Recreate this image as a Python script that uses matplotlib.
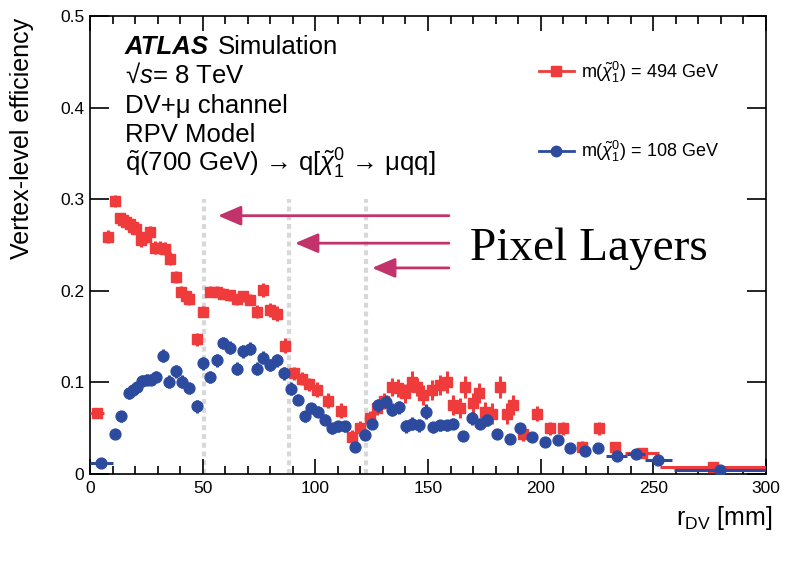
import numpy as np
import matplotlib
matplotlib.use('Agg')
from matplotlib import pyplot as plt
from matplotlib.lines import Line2D

plt.rcParams['font.family'] = ['Liberation Sans', 'DejaVu Sans']
plt.rcParams['mathtext.fontset'] = 'custom'
plt.rcParams['mathtext.rm'] = 'Liberation Sans'
plt.rcParams['mathtext.it'] = 'Liberation Sans:italic'
plt.rcParams['mathtext.bf'] = 'Liberation Sans:bold'

# m(chi) = 494 GeV, 3 mm bins
red_r = [8.0, 11.0, 13.2, 14.6, 16.0, 17.6, 19.1, 20.5, 22.8, 25.0, 26.5, 28.7,
         30.9, 33.1, 35.4, 38.3, 40.5, 42.5, 44.0, 47.3, 50.3, 53.3, 56.2, 59.2,
         62.1, 65.1, 68.0, 71.0, 74.0, 76.9, 79.9, 82.9, 86.4, 90.6, 94.0, 97.2,
         100.6, 105.8, 111.4, 116.2, 119.8, 124.3, 127.5, 130.5, 133.9, 136.9,
         139.8, 142.8, 145.0, 148.0, 151.7, 155.3, 158.3, 161.3, 164.2, 166.4,
         170.1, 172.8, 175.3, 178.3, 182.0, 185.0, 187.9, 192.3, 198.3, 204.2,
         210.1, 218.2, 226.0, 233.0]
red_eff = [0.259, 0.298, 0.279, 0.277, 0.275, 0.273, 0.270, 0.268, 0.255, 0.259,
           0.264, 0.247, 0.247, 0.246, 0.235, 0.215, 0.199, 0.194, 0.191, 0.147,
           0.177, 0.199, 0.199, 0.197, 0.195, 0.191, 0.194, 0.190, 0.177, 0.201,
           0.179, 0.175, 0.140, 0.110, 0.104, 0.098, 0.092, 0.080, 0.069, 0.040,
           0.050, 0.061, 0.072, 0.080, 0.095, 0.094, 0.088, 0.101, 0.095, 0.086,
           0.092, 0.097, 0.101, 0.075, 0.072, 0.095, 0.077, 0.088, 0.068, 0.066,
           0.095, 0.066, 0.075, 0.044, 0.066, 0.050, 0.050, 0.030, 0.050, 0.030]
red_err = [0.007, 0.007, 0.006, 0.006, 0.006, 0.006, 0.006, 0.006, 0.007, 0.007,
           0.007, 0.007, 0.007, 0.007, 0.007, 0.007, 0.006, 0.006, 0.006, 0.007,
           0.006, 0.006, 0.006, 0.006, 0.006, 0.006, 0.006, 0.006, 0.007, 0.008,
           0.008, 0.008, 0.008, 0.007, 0.007, 0.007, 0.008, 0.008, 0.008, 0.008,
           0.008, 0.008, 0.008, 0.009, 0.010, 0.010, 0.010, 0.011, 0.010, 0.011,
           0.011, 0.011, 0.012, 0.011, 0.011, 0.012, 0.011, 0.011, 0.011, 0.011,
           0.012, 0.011, 0.011, 0.008, 0.008, 0.007, 0.007, 0.006, 0.007, 0.005]
# wider bins at small and large radius
red_wide_r = [3.0, 245.0, 276.6]
red_wide_eff = [0.067, 0.023, 0.008]
red_wide_half = [3.0, 7.5, 23.5]

# m(chi) = 108 GeV
blue_r = [11.2, 13.9, 17.2, 19.1, 21.0, 23.1, 25.4, 27.2, 29.4, 32.4, 35.1, 38.0,
          41.0, 43.8, 47.3, 50.2, 53.3, 56.3, 59.0, 62.1, 65.4, 68.0, 71.0, 74.1,
          77.0, 80.0, 83.2, 86.0, 89.0, 92.5, 95.2, 98.2, 101.3, 104.3, 107.3,
          110.2, 113.2, 117.6, 122.0, 125.0, 128.0, 131.4, 133.9, 137.1, 140.1,
          143.1, 146.0, 149.0, 152.4, 155.3, 158.3, 161.3, 165.7, 169.7, 173.1,
          176.1, 180.5, 186.4, 190.9, 196.0, 202.0, 207.9, 213.0, 219.7, 225.6]
blue_eff = [0.044, 0.063, 0.088, 0.092, 0.095, 0.102, 0.103, 0.103, 0.106, 0.129,
            0.101, 0.112, 0.101, 0.094, 0.074, 0.121, 0.106, 0.124, 0.143, 0.138,
            0.115, 0.134, 0.137, 0.115, 0.127, 0.119, 0.124, 0.110, 0.093, 0.081,
            0.063, 0.072, 0.068, 0.059, 0.050, 0.052, 0.052, 0.030, 0.043, 0.055,
            0.075, 0.079, 0.070, 0.073, 0.052, 0.055, 0.053, 0.068, 0.051, 0.053,
            0.053, 0.055, 0.041, 0.061, 0.055, 0.059, 0.044, 0.038, 0.050, 0.040,
            0.035, 0.037, 0.028, 0.025, 0.028]
blue_err = [0.005, 0.006, 0.006, 0.006, 0.006, 0.006, 0.006, 0.006, 0.006, 0.007,
            0.007, 0.007, 0.007, 0.007, 0.007, 0.007, 0.007, 0.007, 0.007, 0.007,
            0.007, 0.007, 0.007, 0.007, 0.007, 0.007, 0.007, 0.007, 0.007, 0.006,
            0.006, 0.006, 0.006, 0.006, 0.006, 0.006, 0.006, 0.005, 0.006, 0.006,
            0.007, 0.007, 0.007, 0.007, 0.007, 0.007, 0.007, 0.008, 0.006, 0.006,
            0.006, 0.006, 0.005, 0.007, 0.006, 0.007, 0.005, 0.005, 0.006, 0.005,
            0.004, 0.004, 0.004, 0.004, 0.004]
blue_wide_r = [5.0, 233.7, 242.3, 252.3, 279.6]
blue_wide_eff = [0.012, 0.020, 0.022, 0.015, 0.004]
blue_wide_half = [5.0, 4.5, 4.0, 6.0, 20.5]

layer_r = [50.5, 88.5, 122.5]
arrow_tip = [56.8, 91.0, 125.2]
arrow_y = [0.282, 0.252, 0.225]

red = '#ef3b3b'
blue = '#2d4b9e'
pink = '#c2336b'

fig = plt.figure(figsize=(7.86, 5.65), dpi=100)
ax = fig.add_axes([0.1145, 0.161, 0.86, 0.8107])

ax.vlines(layer_r, 0, 0.3, colors='#d8d8d8', lw=3, linestyles=(0, (1.2, 0.9)), zorder=1)

style_red = dict(fmt='s', color=red, ms=6.5, elinewidth=2.2, capsize=0, zorder=3)
style_blue = dict(fmt='o', color=blue, ms=7.8, elinewidth=2.2, capsize=0, zorder=4)
ax.errorbar(red_r, red_eff, yerr=red_err, xerr=1.5, **style_red)
ax.errorbar(red_wide_r, red_wide_eff, xerr=red_wide_half, yerr=0.004, **style_red)
ax.errorbar(blue_r, blue_eff, yerr=blue_err, xerr=1.5, **style_blue)
ax.errorbar(blue_wide_r, blue_wide_eff, xerr=blue_wide_half, yerr=0.003, **style_blue)

for tip, y in zip(arrow_tip, arrow_y):
    ax.annotate('', xy=(tip, y), xytext=(159.3, y),
                arrowprops=dict(arrowstyle='-|>,head_length=0.7,head_width=0.3',
                                color=pink, lw=2, mutation_scale=20,
                                shrinkA=0, shrinkB=0))
fig.text(0.598, 0.540, 'Pixel Layers', family='Liberation Serif', fontsize=34)

ax.set_xlim(0, 300)
ax.set_ylim(0, 0.5)
ax.set_xticks([0, 50, 100, 150, 200, 250, 300])
ax.set_xticks(np.arange(0, 301, 10), minor=True)
ax.set_yticks([0, 0.1, 0.2, 0.3, 0.4, 0.5])
ax.set_yticklabels(['0', '0.1', '0.2', '0.3', '0.4', '0.5'])
ax.tick_params(axis='both', which='both', direction='in', top=True, right=True,
               labelsize=12.5, width=1.2)
ax.tick_params(axis='x', which='major', length=11, pad=5)
ax.tick_params(axis='x', which='minor', length=6)
ax.tick_params(axis='y', which='major', length=14, pad=4)
for s in ax.spines.values():
    s.set_linewidth(1.2)

fig.text(0.028, 0.968, 'Vertex-level efficiency', rotation=90, ha='center',
         va='top', fontsize=18)
fig.text(0.982, 0.071, r'r$_{\mathrm{DV}}$ [mm]', ha='right', va='baseline',
         fontsize=18)

x0 = 0.159
fig.text(x0, 1 - 54.3 / 565, 'ATLAS', fontsize=18.5, fontweight='bold',
         fontstyle='italic', va='baseline')
fig.text(0.277, 1 - 54.3 / 565, 'Simulation', fontsize=18.5, va='baseline')
fig.text(x0, 1 - 83.3 / 565, '\u221a$s$= 8 TeV', fontsize=18.5, va='baseline')
fig.text(x0, 1 - 113.3 / 565, 'DV+\u03bc channel', fontsize=18.5, va='baseline')
fig.text(x0, 1 - 141.7 / 565, 'RPV Model', fontsize=18.5, va='baseline')
fig.text(x0, 1 - 171.7 / 565,
         '$\\tilde{\\mathrm{q}}$(700 GeV) \u2192 q[$\\tilde{\\chi}^{0}_{1}$ \u2192 \u03bcqq]',
         fontsize=18.5, va='baseline')

handles = [Line2D([], [], color=red, marker='s', ms=6.5, lw=2),
           Line2D([], [], color=blue, marker='o', ms=7.5, lw=2)]
labels = [r'm($\tilde{\chi}^{0}_{1}$) = 494 GeV', r'm($\tilde{\chi}^{0}_{1}$) = 108 GeV']
ax.legend(handles, labels, loc='upper left', bbox_to_anchor=(0.664, 0.905),
          frameon=False, fontsize=13, labelspacing=3.0, handlelength=1.95,
          handletextpad=0.4, borderpad=0, borderaxespad=0)

fig.savefig('out.png', dpi=100)
